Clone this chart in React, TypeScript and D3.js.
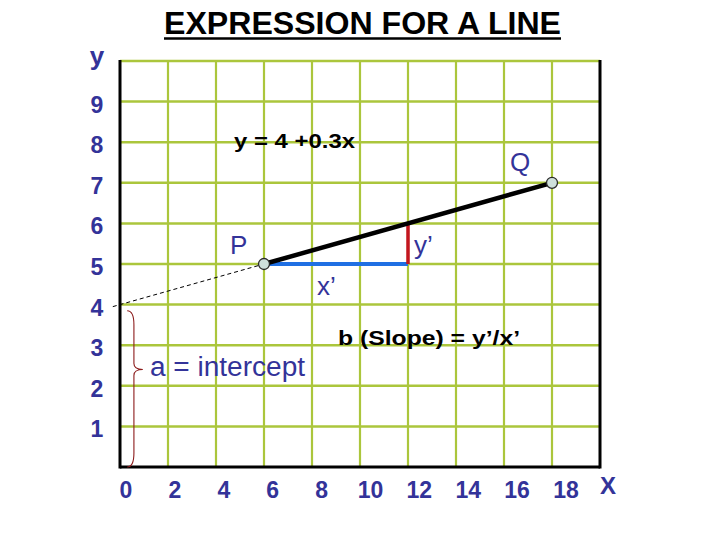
import React from "react";
import * as d3 from "d3";

const titleText = "EXPRESSION FOR A LINE";
const xTickLabels = [0, 2, 4, 6, 8, 10, 12, 14, 16, 18];
const yTickLabels = [1, 2, 3, 4, 5, 6, 7, 8, 9];
const gridXValues = [2, 4, 6, 8, 10, 12, 14, 16, 18];
const gridYValues = [1, 2, 3, 4, 5, 6, 7, 8, 9, 10];
const pointNames = ["P", "Q"];
const pointX = [6, 18];
const pointY = [5, 7];
const interceptA = 4;
const runX = [6, 12];
const riseY = [5, 6];
const equationText = "y = 4 +0.3x";
const slopeText = "b (Slope) = y\u2019/x\u2019";
const interceptText = "a = intercept";

const W = 720;
const H = 540;
const GREEN = "#abc63c";
const BLUE_TXT = "#333399";

export default function App() {
  const x = d3.scaleLinear().domain([0, 20]).range([120, 600]);
  const y = d3.scaleLinear().domain([0, 10]).range([467, 61]);
  const xLab = d3.scaleLinear().domain([0, 18]).range([126, 566]);

  const line = d3
    .line<[number, number]>()
    .x((d) => x(d[0]))
    .y((d) => y(d[1]));

  const slope = (pointY[1] - pointY[0]) / (pointX[1] - pointX[0]);
  const dashStartX = -0.3;
  const dashPts: [number, number][] = [
    [dashStartX, interceptA + slope * dashStartX],
    [pointX[0], pointY[0]],
  ];
  const mainPts: [number, number][] = [
    [pointX[0], pointY[0]],
    [pointX[1], pointY[1]],
  ];

  // curly brace spanning 0..intercept
  const bx = x(0.58);
  const bTop = y(interceptA - 0.2);
  const bBot = y(0.05);
  const bMid = y(2.4);
  const tipX = x(0.95);
  const curl = x(0.3);
  const brace = d3.path();
  brace.moveTo(curl, bTop - 2);
  brace.quadraticCurveTo(bx, bTop - 2, bx, bTop + 12);
  brace.lineTo(bx, bMid - 6);
  brace.quadraticCurveTo(bx, bMid, tipX, bMid);
  brace.quadraticCurveTo(bx, bMid, bx, bMid + 6);
  brace.lineTo(bx, bBot - 12);
  brace.quadraticCurveTo(bx, bBot + 2, curl, bBot + 2);

  return (
    <svg
      width={W}
      height={H}
      style={{ position: "absolute", left: 0, top: 0, background: "#fff" }}
      fontFamily="'Liberation Sans', Arial, sans-serif"
    >
      <rect x={0} y={0} width={W} height={H} fill="#fff" />
      {/* title */}
      <text
        x={164}
        y={34}
        fontSize={31}
        fontWeight="bold"
        fill="#000"
        textLength={397}
        lengthAdjust="spacingAndGlyphs"
      >
        {titleText}
      </text>
      <line x1={164} x2={561} y1={38.5} y2={38.5} stroke="#000" strokeWidth={2.5} />

      {/* grid */}
      {gridXValues.map((v) => (
        <line key={"gx" + v} x1={x(v)} x2={x(v)} y1={y(10)} y2={y(0)} stroke={GREEN} strokeWidth={2.2} />
      ))}
      {gridYValues.map((v) => (
        <line key={"gy" + v} x1={x(0)} x2={x(20)} y1={y(v)} y2={y(v)} stroke={GREEN} strokeWidth={2.5} />
      ))}

      {/* frame */}
      <line x1={x(0)} x2={x(0)} y1={y(10) - 1} y2={y(0) + 1.5} stroke="#000" strokeWidth={3} />
      <line x1={x(0)} x2={x(20)} y1={y(0)} y2={y(0)} stroke="#000" strokeWidth={3} />
      <line x1={x(20)} x2={x(20)} y1={y(10) - 1} y2={y(0) + 1.5} stroke="#000" strokeWidth={3} />

      {/* y tick labels */}
      {yTickLabels.map((v) => (
        <text
          key={"yl" + v}
          x={97}
          y={y(v) + 11}
          fontSize={23}
          fontWeight="bold"
          fill={BLUE_TXT}
          textAnchor="middle"
        >
          {v}
        </text>
      ))}
      <text x={97} y={65} fontSize={26} fontWeight="bold" fill={BLUE_TXT} textAnchor="middle">
        y
      </text>

      {/* x tick labels */}
      {xTickLabels.map((v) => (
        <text
          key={"xl" + v}
          x={xLab(v)}
          y={498}
          fontSize={23}
          fontWeight="bold"
          fill={BLUE_TXT}
          textAnchor="middle"
        >
          {v}
        </text>
      ))}
      <text x={608} y={494} fontSize={24} fill={BLUE_TXT} textAnchor="middle" fontWeight="bold">
        X
      </text>

      {/* dashed extension to intercept */}
      <path d={line(dashPts) || ""} fill="none" stroke="#000" strokeWidth={1} strokeDasharray="4,3" />

      {/* run (x') and rise (y') */}
      <path
        d={line([[runX[0], riseY[0]], [runX[1], riseY[0]]]) || ""}
        fill="none"
        stroke="#1f6fe3"
        strokeWidth={4}
      />
      <path
        d={line([[runX[1], riseY[0]], [runX[1], riseY[1]]]) || ""}
        fill="none"
        stroke="#c3161f"
        strokeWidth={3.5}
      />

      {/* main line */}
      <path d={line(mainPts) || ""} fill="none" stroke="#000" strokeWidth={4.5} />

      {/* points */}
      {pointNames.map((n, i) => (
        <circle
          key={n}
          cx={x(pointX[i])}
          cy={y(pointY[i])}
          r={5.5}
          fill="#cfe0dc"
          stroke="#2b2b2b"
          strokeWidth={1.3}
        />
      ))}

      {/* brace */}
      <path d={brace.toString()} fill="none" stroke="#8c1c1c" strokeWidth={1.1} />

      {/* annotations */}
      <text x={234} y={148} fontSize={21} fontWeight="bold" fill="#000" textLength={121} lengthAdjust="spacingAndGlyphs">
        {equationText}
      </text>
      <text x={338} y={345} fontSize={21} fontWeight="bold" fill="#000" textLength={182} lengthAdjust="spacingAndGlyphs">
        {slopeText}
      </text>
      <text x={150} y={376} fontSize={27} fill={BLUE_TXT} textLength={155} lengthAdjust="spacingAndGlyphs">
        {interceptText}
      </text>
      <text x={510} y={171} fontSize={26} fill={BLUE_TXT}>
        {pointNames[1]}
      </text>
      <text x={230} y={254} fontSize={26} fill={BLUE_TXT}>
        {pointNames[0]}
      </text>
      <text x={414} y={254} fontSize={26} fill={BLUE_TXT}>
        {"y\u2019"}
      </text>
      <text x={317} y={295} fontSize={26} fill={BLUE_TXT}>
        {"x\u2019"}
      </text>
    </svg>
  );
}
